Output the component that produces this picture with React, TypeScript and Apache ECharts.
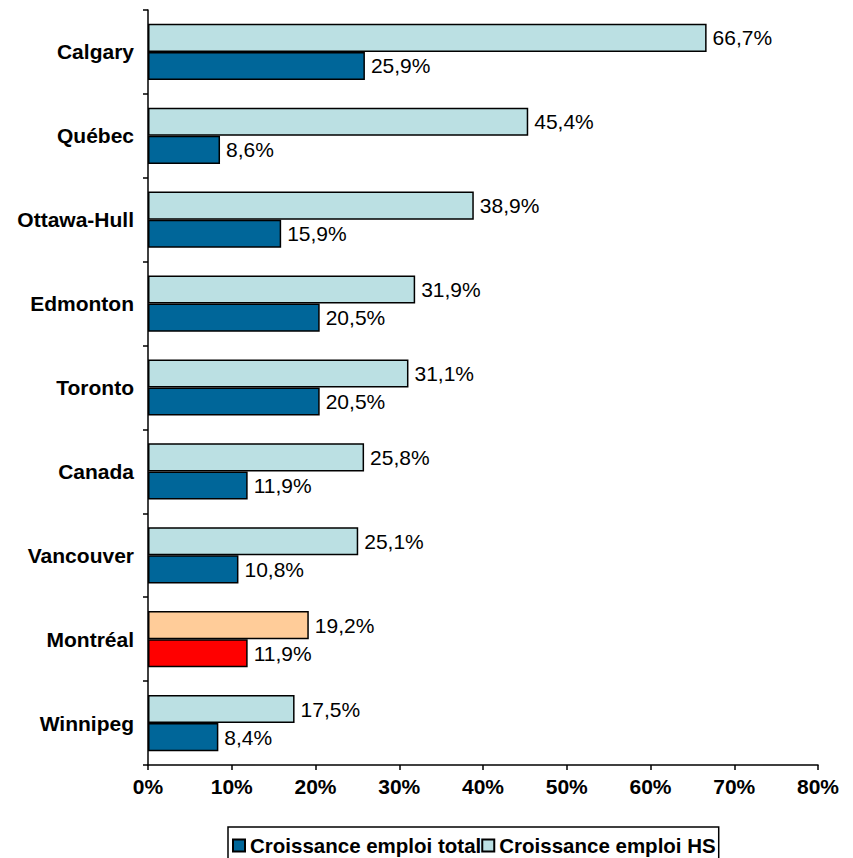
import React, { useEffect, useRef } from "react";
import * as echarts from "echarts";

const categories = ["Calgary", "Québec", "Ottawa-Hull", "Edmonton", "Toronto", "Canada", "Vancouver", "Montréal", "Winnipeg"];
const totalGrowth = [25.9, 8.6, 15.9, 20.5, 20.5, 11.9, 10.8, 11.9, 8.4];
const hsGrowth = [66.7, 45.4, 38.9, 31.9, 31.1, 25.8, 25.1, 19.2, 17.5];
const xTicks = [0, 10, 20, 30, 40, 50, 60, 70, 80];
const highlight = "Montréal";

const FONT = "'Liberation Sans', Arial, sans-serif";

export default function App() {
  const ref = useRef<HTMLDivElement>(null);
  useEffect(() => {
    const chart = echarts.init(ref.current!, null, { renderer: "svg" });
    const fmt = (p: any) => p.value.toFixed(1).replace(".", ",") + "%";
    const labelCfg = {
      show: true,
      position: "right",
      distance: 6,
      color: "#000",
      fontFamily: FONT,
      fontSize: 21,
      formatter: fmt,
    };
    chart.setOption({
      animation: false,
      backgroundColor: "#fff",
      grid: { left: 148, right: 35, top: 10, bottom: 93 },
      xAxis: {
        type: "value",
        min: xTicks[0],
        max: xTicks[xTicks.length - 1],
        interval: 10,
        splitLine: { show: false },
        axisLine: { show: true, lineStyle: { color: "#000", width: 1.5 } },
        axisTick: { show: true, length: 5, lineStyle: { color: "#000", width: 1.5 } },
        axisLabel: {
          color: "#000",
          fontFamily: FONT,
          fontSize: 21,
          fontWeight: "bold",
          margin: 11,
          formatter: (v: number) => v + "%",
        },
      },
      yAxis: {
        type: "category",
        data: categories,
        inverse: true,
        axisLine: { show: true, lineStyle: { color: "#000", width: 1.5 } },
        axisTick: { show: true, length: 5, inside: false, lineStyle: { color: "#000", width: 1.5 } },
        axisLabel: {
          color: "#000",
          fontFamily: FONT,
          fontSize: 21,
          fontWeight: "bold",
          margin: 14,
        },
      },
      legend: {
        data: ["Croissance emploi total", "Croissance emploi HS"],
        left: 228,
        top: 827,
        padding: [8, 3, 8, 4],
        itemGap: 0,
        itemWidth: 12,
        itemHeight: 12,
        icon: "rect",
        borderColor: "#000",
        borderWidth: 1.5,
        textStyle: { color: "#000", fontFamily: FONT, fontSize: 20.5, fontWeight: "bold" },
      },
      series: [
        {
          name: "Croissance emploi HS",
          type: "bar",
          barGap: "0%",
          barCategoryGap: "33%",
          data: hsGrowth.map((v, i) =>
            categories[i] === highlight ? { value: v, itemStyle: { color: "#FFCC99" } } : v
          ),
          itemStyle: { color: "#BBE0E3", borderColor: "#000", borderWidth: 1.5 },
          label: labelCfg,
        },
        {
          name: "Croissance emploi total",
          type: "bar",
          barGap: "0%",
          barCategoryGap: "33%",
          data: totalGrowth.map((v, i) =>
            categories[i] === highlight ? { value: v, itemStyle: { color: "#FF0000" } } : v
          ),
          itemStyle: { color: "#006699", borderColor: "#000", borderWidth: 1.5 },
          label: labelCfg,
        },
      ],
    });
    return () => chart.dispose();
  }, []);
  return (
    <div
      ref={ref}
      style={{ position: "absolute", left: 0, top: 0, width: 853, height: 858 }}
    />
  );
}
